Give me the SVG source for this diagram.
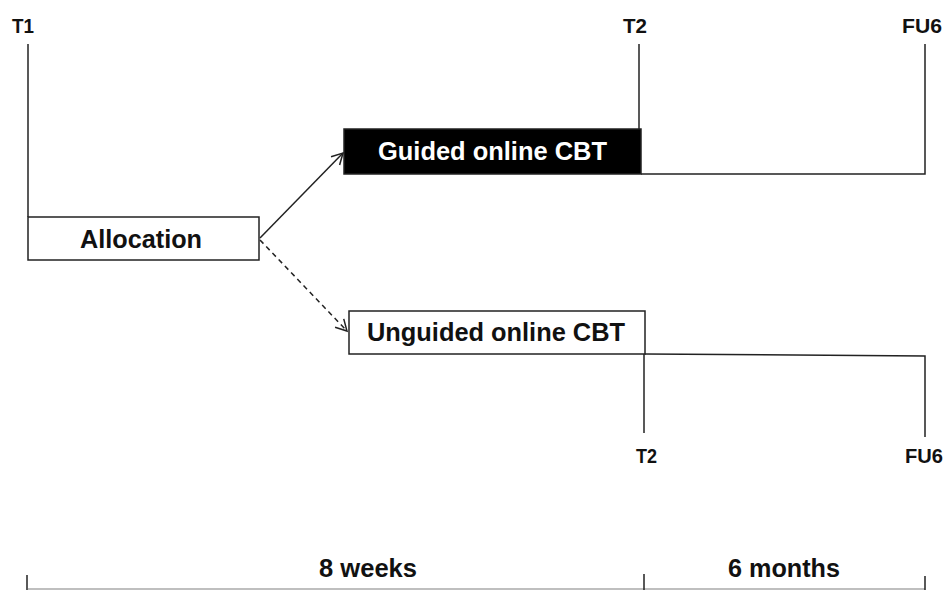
<svg xmlns="http://www.w3.org/2000/svg" width="946" height="590" viewBox="0 0 946 590">
<style>
text{font-family:"Liberation Sans",Arial,sans-serif;font-weight:bold;fill:#111}
.ln{stroke:#222;stroke-width:1.5;fill:none}
.box{fill:#fff;stroke:#222;stroke-width:1.5}
.lbl{font-size:26px}
.tp{font-size:21px}
</style>
<defs>
<marker id="ah" markerWidth="14" markerHeight="14" refX="12" refY="7" orient="auto" markerUnits="userSpaceOnUse">
<path d="M1,1 L12,7 L1,13" fill="none" stroke="#222" stroke-width="1.5"/>
</marker>
</defs>
<rect width="946" height="590" fill="#fff"/>
<g id="timelines">
<line class="ln" x1="28" y1="44" x2="28" y2="217"/>
<line class="ln" x1="639" y1="44" x2="639" y2="129"/>
<polyline class="ln" points="641,174 925,174 925,44"/>
<polyline class="ln" points="645,354 925,356 925,437"/>
<line class="ln" x1="644" y1="354" x2="644" y2="433"/>
</g>
<g id="connectors">
<line class="ln" x1="260" y1="238" x2="343" y2="153" marker-end="url(#ah)"/>
<line class="ln" x1="260" y1="240" x2="347" y2="331" stroke-dasharray="5,4" marker-end="url(#ah)"/>
</g>
<g id="labels-top">
<text class="tp" x="12" y="33" textLength="22" lengthAdjust="spacingAndGlyphs">T1</text>
<text class="tp" x="623" y="33" textLength="24" lengthAdjust="spacingAndGlyphs">T2</text>
<text class="tp" x="902" y="33" textLength="40" lengthAdjust="spacingAndGlyphs">FU6</text>
</g>
<g id="allocation">
<rect class="box" x="28" y="217" width="231" height="43"/>
<text class="lbl" x="80" y="248" textLength="122" lengthAdjust="spacingAndGlyphs">Allocation</text>
</g>
<g id="guided">
<rect x="344" y="129" width="297" height="45" fill="#000" stroke="#222" stroke-width="1.5"/>
<text class="lbl" x="378" y="160" textLength="229" lengthAdjust="spacingAndGlyphs" style="fill:#fff">Guided online CBT</text>
</g>
<g id="unguided">
<rect class="box" x="349" y="311" width="296" height="43"/>
<text class="lbl" x="367" y="341" textLength="258" lengthAdjust="spacingAndGlyphs">Unguided online CBT</text>
</g>
<g id="labels-bottom">
<text class="tp" x="636" y="463" textLength="21" lengthAdjust="spacingAndGlyphs">T2</text>
<text class="tp" x="905" y="463" textLength="38" lengthAdjust="spacingAndGlyphs">FU6</text>
</g>
<g id="scale">
<line x1="28" y1="589" x2="925" y2="589" stroke="#aaa" stroke-width="1.5"/>
<line class="ln" x1="27" y1="575" x2="27" y2="590"/>
<line class="ln" x1="644" y1="574" x2="644" y2="590"/>
<line class="ln" x1="925" y1="576" x2="925" y2="590"/>
<text class="lbl" x="319" y="577" textLength="98" lengthAdjust="spacingAndGlyphs">8 weeks</text>
<text class="lbl" x="728" y="577" textLength="112" lengthAdjust="spacingAndGlyphs">6 months</text>
</g>
</svg>
